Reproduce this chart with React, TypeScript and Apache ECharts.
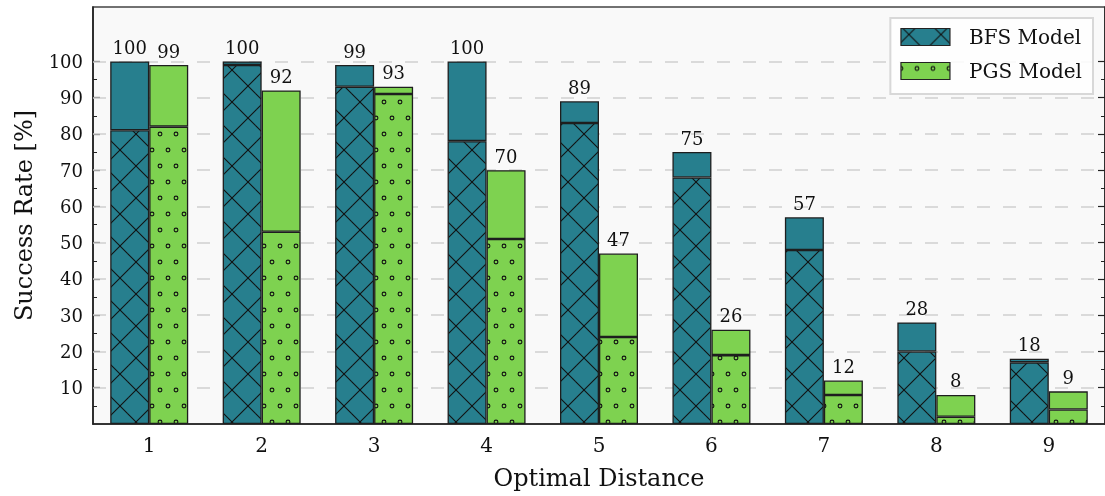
import React, { useEffect, useRef } from 'react';
import * as echarts from 'echarts';

const categories = ['1', '2', '3', '4', '5', '6', '7', '8', '9'];
const bfsTotal = [100, 100, 99, 100, 89, 75, 57, 28, 18];
const bfsBase = [81, 99, 93, 78, 83, 68, 48, 20, 17];
const pgsTotal = [99, 92, 93, 70, 47, 26, 12, 8, 9];
const pgsBase = [82, 53, 91, 51, 24, 19, 8, 2, 4];
const majorTicks = [10, 20, 30, 40, 50, 60, 70, 80, 90, 100];
const minorTicks = [5, 15, 25, 35, 45, 55, 65, 75, 85, 95];

const TEAL = '#277f8e';
const GREEN = '#7ed250';
const INK = '#111111';
const FONT = 'DejaVu Serif';

function crossTile(): HTMLCanvasElement {
  const c = document.createElement('canvas');
  c.width = 32;
  c.height = 32;
  const g = c.getContext('2d')!;
  g.fillStyle = TEAL;
  g.fillRect(0, 0, 32, 32);
  g.strokeStyle = '#111';
  g.lineWidth = 1.1;
  for (let k = -2; k <= 2; k++) {
    g.beginPath();
    g.moveTo(-8, -8 - 2 + 32 * k);
    g.lineTo(40, 40 - 2 + 32 * k);
    g.stroke();
    g.beginPath();
    g.moveTo(-8, 8 + 14 + 32 * k);
    g.lineTo(40, -40 + 14 + 32 * k);
    g.stroke();
  }
  return c;
}

function dotTile(): HTMLCanvasElement {
  const c = document.createElement('canvas');
  c.width = 16;
  c.height = 32;
  const g = c.getContext('2d')!;
  g.fillStyle = GREEN;
  g.fillRect(0, 0, 16, 32);
  g.strokeStyle = '#111';
  g.lineWidth = 1.1;
  const pts = [[0, 6], [16, 6], [8, 22], [0, 38], [16, -26]];
  for (const [x, y] of pts) {
    g.beginPath();
    g.arc(x, y, 1.9, 0, Math.PI * 2);
    g.stroke();
  }
  return c;
}

export default function App() {
  const ref = useRef<HTMLDivElement>(null);
  useEffect(() => {
    if (!ref.current) return;
    const chart = echarts.init(ref.current, undefined, { renderer: 'svg' });
    const crossPattern = { image: crossTile(), repeat: 'repeat' };
    const dotPattern = { image: dotTile(), repeat: 'repeat' };
    const bfsRest = bfsTotal.map((t, i) => t - bfsBase[i]);
    const pgsRest = pgsTotal.map((t, i) => t - pgsBase[i]);
    const border = { borderColor: '#1e1e1e', borderWidth: 1.3 };
    const labelStyle = {
      show: true,
      position: 'top',
      distance: 5,
      fontFamily: FONT,
      fontSize: 18,
      color: INK,
    };
    const yCommon = {
      type: 'value',
      min: 0,
      max: 115,
      interval: 10,
      splitLine: { show: false },
    };
    chart.setOption({
      animation: false,
      grid: {
        left: 93,
        right: 0,
        top: 7,
        bottom: 72,
        show: true,
        backgroundColor: '#f9f9f9',
        borderColor: '#444',
        borderWidth: 1.6,
      },
      legend: {
        data: ['BFS Model', 'PGS Model'],
        orient: 'vertical',
        right: 12,
        top: 18,
        itemWidth: 49,
        itemHeight: 17,
        itemGap: 14,
        padding: [9, 11, 13, 10],
        backgroundColor: 'rgba(255,255,255,0.85)',
        borderColor: '#d8d8d8',
        borderWidth: 2,
        icon: 'rect',
        itemStyle: { borderColor: '#222', borderWidth: 1.2 },
        textStyle: { fontFamily: FONT, fontSize: 20, color: INK, padding: [0, 0, 0, 14] },
      },
      xAxis: {
        type: 'category',
        data: categories,
        axisTick: { show: false },
        axisLine: { lineStyle: { color: '#222', width: 1.6 } },
        axisLabel: { fontFamily: FONT, fontSize: 20, color: INK, margin: 11 },
        name: 'Optimal Distance',
        nameLocation: 'middle',
        nameGap: 42,
        nameTextStyle: { fontFamily: FONT, fontSize: 24, color: INK },
      },
      yAxis: [
        {
          ...yCommon,
          position: 'left',
          axisLine: { show: true, lineStyle: { color: '#222', width: 1.6 } },
          axisTick: { show: true, inside: true, length: 7, customValues: majorTicks, lineStyle: { color: '#222', width: 1.2 } },
          axisLabel: {
            fontFamily: FONT,
            fontSize: 18,
            color: INK,
            margin: 10,
            customValues: majorTicks,
            formatter: (v: number) => (v >= 10 && v <= 100 ? String(v) : ''),
          },
          name: 'Success Rate [%]',
          nameLocation: 'middle',
          nameGap: 57,
          nameTextStyle: { fontFamily: FONT, fontSize: 24, color: INK },
        },
        {
          ...yCommon,
          position: 'left',
          axisLine: { show: false },
          axisTick: { show: true, inside: true, length: 4, customValues: minorTicks, lineStyle: { color: '#222', width: 1 } },
          axisLabel: { show: false },
        },
        {
          ...yCommon,
          position: 'right',
          axisLine: { show: true, lineStyle: { color: '#222', width: 1.6 } },
          axisTick: { show: true, inside: true, length: 7, customValues: majorTicks, lineStyle: { color: '#222', width: 1.2 } },
          axisLabel: { show: false },
        },
        {
          ...yCommon,
          position: 'right',
          axisLine: { show: false },
          axisTick: { show: true, inside: true, length: 4, customValues: minorTicks, lineStyle: { color: '#222', width: 1 } },
          axisLabel: { show: false },
        },
      ],
      series: [
        {
          name: 'BFS Model',
          type: 'bar',
          stack: 'bfs',
          barWidth: 39,
          barGap: '0%',
          data: bfsBase,
          itemStyle: { color: crossPattern, ...border },
          markLine: {
            silent: true,
            z: 1,
            symbol: ['none', 'none'],
            label: { show: false },
            lineStyle: { color: '#cfcfcf', type: [13, 13], width: 1.5 },
            data: majorTicks.map((v) => ({ yAxis: v })),
          },
        },
        {
          name: 'BFS Model top',
          type: 'bar',
          stack: 'bfs',
          barWidth: 39,
          barGap: '0%',
          data: bfsRest,
          itemStyle: { color: TEAL, ...border },
          label: { ...labelStyle, formatter: (p: any) => String(bfsTotal[p.dataIndex]) },
        },
        {
          name: 'PGS Model',
          type: 'bar',
          stack: 'pgs',
          barWidth: 39,
          barGap: '0%',
          data: pgsBase,
          itemStyle: { color: dotPattern, ...border },
        },
        {
          name: 'PGS Model top',
          type: 'bar',
          stack: 'pgs',
          barWidth: 39,
          barGap: '0%',
          data: pgsRest,
          itemStyle: { color: GREEN, ...border },
          label: { ...labelStyle, formatter: (p: any) => String(pgsTotal[p.dataIndex]) },
        },
      ],
    });
    return () => chart.dispose();
  }, []);
  return (
    <div
      ref={ref}
      style={{ position: 'fixed', left: 0, top: 0, width: 1105, height: 496 }}
    />
  );
}
